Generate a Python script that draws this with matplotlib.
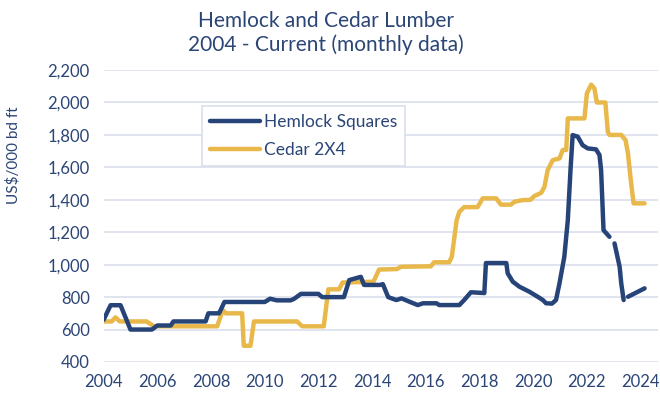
import numpy as np
import matplotlib
matplotlib.use("Agg")
import matplotlib.pyplot as plt

# values (decimal year, US$/000 bd ft); nan = missing month
hemlock_year = [2004.0, 2004.26, 2004.63, 2005.0, 2005.8, 2006.0, 2006.5, 2006.6,
                2007.8, 2007.9, 2008.3, 2008.5, 2010.0, 2010.2, 2010.45, 2010.97,
                2011.1, 2011.35, 2012.0, 2012.14, 2012.95, 2013.15, 2013.58, 2013.7,
                2014.3, 2014.4, 2014.6, 2014.9, 2015.1, 2015.4, 2015.7, 2015.9,
                2016.4, 2016.5, 2017.25, 2017.43, 2017.68, 2018.18, 2018.24, 2019.0,
                2019.05, 2019.24, 2019.49, 2019.86, 2020.17, 2020.36, 2020.48, 2020.7,
                2020.85, 2020.98, 2021.16, 2021.29, 2021.39, 2021.47, 2021.66, 2021.84,
                2022.03, 2022.34, 2022.47, 2022.53, 2022.62, 2022.84, 2022.93, 2023.03,
                2023.22, 2023.28, 2023.37, 2023.45, 2023.53, 2023.9, 2024.15]
hemlock_val = [660, 750, 750, 600, 600, 625, 625, 650,
               650, 700, 700, 770, 770, 790, 780, 780,
               790, 820, 820, 800, 800, 905, 925, 875,
               875, 880, 800, 782, 792, 771, 751, 762,
               762, 751, 751, 782, 830, 825, 1010, 1010,
               947, 895, 864, 833, 802, 782, 762, 760,
               782, 885, 1049, 1275, 1583, 1799, 1789, 1737,
               1717, 1711, 1676, 1583, 1213, 1172, np.nan, 1131,
               987, 885, 782, np.nan, 802, 833, 854]

cedar_year = [2004.0, 2004.3, 2004.44, 2004.6, 2005.6, 2005.87, 2008.23, 2008.44,
              2008.55, 2009.16, 2009.22, 2009.47, 2009.6, 2011.2, 2011.4, 2012.2,
              2012.37, 2012.77, 2012.9, 2014.05, 2014.26, 2014.93, 2015.07, 2016.19,
              2016.31, 2016.87, 2016.97, 2017.1, 2017.15, 2017.25, 2017.43, 2017.93,
              2018.12, 2018.62, 2018.8, 2019.17, 2019.3, 2019.6, 2019.9, 2020.04,
              2020.3, 2020.42, 2020.54, 2020.73, 2020.98, 2021.1, 2021.23, 2021.29,
              2021.91, 2022.0, 2022.16, 2022.28, 2022.37, 2022.69, 2022.78, 2022.84,
              2023.28, 2023.44, 2023.53, 2023.65, 2023.74, 2024.15]
cedar_val = [650, 650, 675, 650, 650, 620, 620, 720,
             700, 700, 500, 500, 650, 650, 620, 620,
             848, 848, 890, 895, 970, 973, 987, 990,
             1015, 1015, 1049, 1213, 1275, 1326, 1355, 1355,
             1409, 1409, 1370, 1370, 1388, 1398, 1400, 1423,
             1443, 1480, 1583, 1645, 1655, 1707, 1707, 1902,
             1902, 2056, 2110, 2087, 2000, 2000, 1819, 1800,
             1800, 1768, 1686, 1501, 1378, 1378]

x_ticks = list(range(2004, 2025, 2))
y_ticks = list(range(400, 2201, 200))

navy = "#264478"
gold = "#E9B84A"
text_col = "#2B4576"
grid_col = "#D9DFEC"

plt.rcParams['font.family'] = ['Lato', 'DejaVu Sans']

fig = plt.figure(figsize=(6.6, 4.01), dpi=100)
ax = fig.add_axes([0.157, 0.0973, 0.84, 0.728])

ax.plot(hemlock_year, hemlock_val, color=navy, lw=3.2, solid_capstyle='round',
        solid_joinstyle='round', label="Hemlock Squares", zorder=3)
ax.plot(cedar_year, cedar_val, color=gold, lw=3.2, solid_capstyle='round',
        solid_joinstyle='round', label="Cedar 2X4", zorder=2)

ax.set_xlim(2004, 2024.65)
ax.set_ylim(400, 2200)
ax.set_xticks(x_ticks)
ax.set_yticks(y_ticks)
ax.set_yticklabels([f"{v:,}" for v in y_ticks])
ax.yaxis.grid(True, color=grid_col, lw=1.2)
ax.set_axisbelow(True)
for s in ax.spines.values():
    s.set_visible(False)
ax.tick_params(length=0, labelsize=12, colors=text_col)
ax.tick_params(axis='y', pad=10)
ax.tick_params(axis='x', pad=9)

ax.set_ylabel("US$/000 bd ft", color=text_col, fontsize=11, labelpad=10)
ax.yaxis.set_label_coords(-0.15, 0.71)
fig.text(0.494, 0.972, "Hemlock and Cedar Lumber\n2004 - Current (monthly data)",
         ha='center', va='top', color=text_col, fontsize=15, linespacing=1.2)

leg = ax.legend(loc='upper left', bbox_to_anchor=(0.177, 0.876), fontsize=12.5,
                frameon=True, fancybox=False, framealpha=1, handlelength=2.9,
                borderpad=0.45, labelspacing=0.7, handletextpad=0.25,
                borderaxespad=0)
leg.get_frame().set_edgecolor(grid_col)
leg.get_frame().set_linewidth(1.2)
for t in leg.get_texts():
    t.set_color(text_col)

fig.savefig("out.png", dpi=100)
